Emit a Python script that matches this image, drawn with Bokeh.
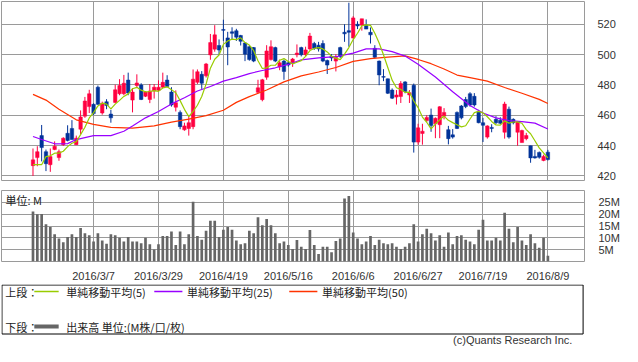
from bokeh.plotting import figure
from bokeh.layouts import column
from bokeh.models import Range1d, FixedTicker, ColumnDataSource, Label
from bokeh.embed import file_html
from bokeh.resources import INLINE
from bokeh.core.properties import value

# ---------------- data ----------------
tick_idx = [14, 29, 44, 59, 74, 89, 104, 119]
tick_labels = ["2016/3/7", "2016/3/29", "2016/4/19", "2016/5/16",
               "2016/6/6", "2016/6/27", "2016/7/19", "2016/8/9"]

opens = [426.8, 432.1, 446.6, 436.0, 427.4, 437.4, 432.1, 440.6, 448.1, 451.3,
         440.6, 450.8, 459.4, 465.7, 467.2, 478.5, 461.5, 468.9, 460.8, 468.5,
         474.2, 474.2, 483.2, 470.0, 479.6, 480.0, 472.5, 470.4, 476.0, 476.5,
         478.5, 483.2, 475.3, 465.3, 461.9, 450.4, 451.3, 452.5, 481.7, 487.0,
         486.0, 499.8, 503.6, 506.0, 516.5, 511.0, 515.0, 515.7, 512.6, 507.7,
         505.2, 504.6, 475.1, 470.3, 485.1, 496.7, 504.6, 491.9, 495.7, 494.6,
         494.6, 499.9, 504.6, 499.9, 503.7, 507.3, 506.2, 507.3, 496.1, 498.8,
         495.7, 504.6, 514.7, 515.8, 510.9, 520.0, 519.4, 519.4, 514.7, 504.1,
         495.7, 485.5, 484.0, 476.6, 472.0, 472.4, 482.0, 473.4, 479.8, 442.3,
         448.0, 456.5, 460.1, 454.4, 453.8, 459.4, 450.5, 447.1, 461.9, 466.1,
         470.4, 474.2, 472.5, 462.5, 455.1, 445.6, 452.0, 457.3, 456.8, 448.8,
         464.0, 457.3, 448.8, 442.0, 444.6, 439.9, 432.9, 435.5, 430.2, 435.7]
highs = [438.1, 439.6, 453.6, 437.4, 438.1, 442.8, 437.4, 445.5, 453.4, 456.8,
         446.6, 463.2, 472.1, 476.8, 467.9, 479.6, 469.0, 470.6, 463.6, 480.2,
         483.8, 486.6, 488.1, 477.9, 487.0, 481.1, 476.0, 480.6, 480.6, 483.0,
         488.1, 486.4, 478.5, 476.4, 463.2, 455.1, 459.4, 490.2, 490.2, 489.1,
         494.5, 513.6, 519.4, 510.0, 523.0, 515.0, 518.0, 517.0, 513.0, 508.0,
         506.2, 505.0, 483.4, 484.0, 506.2, 509.4, 505.2, 496.7, 496.7, 495.5,
         497.8, 506.7, 505.2, 505.2, 514.3, 508.4, 508.4, 509.4, 496.7, 500.3,
         500.3, 505.2, 520.0, 534.2, 525.3, 522.0, 523.6, 523.2, 517.9, 506.2,
         496.1, 490.4, 484.2, 477.7, 476.6, 482.5, 482.5, 476.6, 480.9, 454.4,
         454.4, 460.1, 464.4, 458.6, 466.0, 464.7, 453.0, 450.9, 462.5, 466.8,
         472.1, 475.2, 474.6, 463.6, 458.3, 453.4, 454.1, 459.4, 458.7, 468.9,
         465.7, 458.0, 456.2, 450.5, 448.4, 440.0, 437.2, 436.1, 434.0, 437.2]
lows = [420.0, 426.4, 429.6, 423.2, 422.7, 437.0, 430.0, 439.8, 442.8, 444.0,
        440.6, 447.6, 458.3, 461.5, 460.2, 466.8, 460.4, 464.0, 455.1, 467.9,
        473.2, 473.2, 473.2, 461.9, 478.0, 470.0, 472.0, 468.0, 471.0, 476.0,
        478.0, 478.5, 465.7, 462.5, 450.8, 449.8, 446.6, 450.8, 480.6, 477.4,
        484.9, 496.6, 501.9, 500.0, 509.0, 493.0, 510.0, 509.0, 506.0, 495.7,
        496.0, 495.0, 474.5, 469.2, 483.4, 496.1, 495.0, 489.7, 483.4, 492.0,
        491.9, 498.2, 498.8, 498.8, 503.1, 503.1, 502.0, 495.0, 487.2, 495.7,
        488.9, 497.8, 508.4, 505.2, 510.5, 516.8, 515.8, 516.8, 507.3, 497.4,
        479.8, 482.5, 474.0, 470.7, 467.1, 468.1, 474.5, 468.1, 435.4, 440.6,
        440.6, 455.5, 449.1, 444.9, 444.9, 457.3, 440.8, 444.6, 450.9, 457.3,
        464.7, 465.7, 465.7, 454.7, 442.4, 444.6, 448.8, 454.1, 454.1, 444.6,
        444.6, 454.0, 439.9, 442.0, 443.5, 428.7, 431.4, 431.4, 429.7, 430.2]
closes = [430.6, 436.0, 438.7, 428.1, 432.8, 439.6, 436.0, 444.9, 443.4, 444.0,
          444.9, 458.9, 469.4, 474.2, 461.1, 467.2, 467.9, 466.4, 458.3, 476.8,
          479.6, 481.1, 474.7, 475.3, 481.3, 470.4, 475.3, 476.0, 478.5, 478.5,
          481.7, 479.0, 466.8, 468.3, 452.5, 453.0, 455.1, 483.8, 488.7, 481.1,
          493.8, 507.9, 513.0, 503.0, 516.0, 505.0, 514.0, 511.5, 508.8, 500.3,
          496.7, 495.7, 478.1, 483.4, 502.4, 505.2, 495.7, 494.6, 488.9, 493.1,
          497.1, 501.0, 499.9, 503.1, 512.2, 504.1, 503.7, 495.7, 493.1, 497.8,
          498.2, 498.8, 513.7, 514.7, 524.2, 518.9, 523.6, 516.8, 513.0, 498.2,
          486.6, 485.1, 474.5, 471.3, 473.4, 480.9, 475.6, 474.9, 442.3, 451.7,
          449.5, 458.6, 453.3, 458.0, 465.6, 461.9, 444.6, 445.6, 451.3, 458.3,
          465.7, 466.8, 466.8, 455.1, 453.4, 453.0, 451.3, 455.1, 454.7, 467.4,
          445.6, 455.1, 455.6, 449.9, 446.7, 431.9, 431.9, 432.3, 432.9, 430.8]
volume_m = [21.1, 20.0, 20.1, 15.7, 14.6, 11.5, 9.7, 8.1, 10.4, 11.5,
            10.4, 14.2, 11.9, 11.1, 8.5, 11.9, 8.9, 7.5, 11.5, 11.1,
            10.0, 8.5, 10.4, 8.5, 8.5, 7.7, 10.0, 7.3, 5.1, 7.3,
            10.8, 10.8, 12.7, 7.0, 12.7, 7.3, 11.5, 25.2, 10.8, 9.2,
            13.0, 17.2, 17.2, 10.4, 13.4, 14.6, 13.4, 8.9, 7.3, 7.7,
            13.0, 11.9, 18.7, 15.3, 18.0, 15.3, 11.9, 7.7, 8.5, 7.0,
            5.3, 9.1, 6.2, 5.3, 13.3, 7.0, 3.2, 6.2, 6.2, 3.9,
            8.7, 9.7, 26.6, 27.7, 12.3, 9.7, 7.3, 8.5, 10.8, 7.0,
            9.2, 7.7, 7.3, 7.7, 6.2, 5.3, 6.2, 7.7, 15.7, 8.5,
            11.5, 13.8, 11.9, 8.9, 11.1, 6.2, 12.3, 7.3, 10.8, 11.1,
            9.2, 8.5, 7.3, 13.4, 17.6, 8.9, 8.9, 10.0, 8.9, 20.6,
            13.8, 8.1, 14.6, 8.9, 7.0, 11.5, 7.7, 5.8, 10.0, 2.4]

ma5_head = [427.4, 427.4, 427.4, 432.8]
ma25_idx = [0, 2, 5, 8, 10, 14, 18, 21, 23, 26, 29, 32, 35, 38, 41, 44, 47, 50, 53,
            56, 59, 62, 66, 70, 74, 77, 80, 83, 86, 89, 93, 97, 101, 104, 107, 110,
            113, 116, 119]
ma25_val = [446.0, 444.0, 441.2, 441.3, 444.0, 446.6, 446.6, 449.5, 453.0, 458.3,
            462.5, 467.5, 471.5, 476.0, 479.0, 482.5, 484.8, 487.5, 489.5, 491.3,
            493.5, 496.5, 497.8, 498.6, 501.0, 503.8, 503.8, 502.0, 499.0, 493.6,
            485.2, 475.5, 466.5, 461.5, 458.3, 456.5, 455.8, 454.8, 451.0]
ma50_idx = [0, 3, 6, 10, 14, 18, 23, 28, 32, 36, 40, 44, 47, 50, 54, 58, 62, 66, 70,
            74, 78, 82, 86, 89, 92, 95, 98, 101, 105, 109, 113, 117, 119]
ma50_val = [473.8, 470.0, 464.0, 457.0, 454.0, 452.0, 451.5, 453.0, 455.5, 457.5,
            459.8, 463.3, 468.5, 472.3, 476.7, 482.0, 486.0, 488.5, 491.5, 495.5,
            497.3, 498.3, 499.2, 496.8, 494.0, 490.5, 486.5, 484.8, 482.5, 478.3,
            474.5, 470.5, 467.8]

price_ticks = [420, 440, 460, 480, 500, 520]
vol_ticks = [5, 10, 15, 20, 25]

# ---------------- styles ----------------
UP = "#ff0040"
DOWN = "#003399"
C_MA5 = "#99cc00"
C_MA25 = "#9900ff"
C_MA50 = "#ff3300"
GRID = "#9a9a9a"
VOLC = "#666666"
NUM_FONT = "Liberation Sans"
JP_FONT = "Noto Sans CJK JP"

n = len(closes)
idx = list(range(n))
up = [c >= o for o, c in zip(opens, closes)]
colors = [UP if u else DOWN for u in up]
ma5 = ma5_head + [sum(closes[i - 4:i + 1]) / 5 for i in range(4, n)]

src = ColumnDataSource(dict(
    x=idx,
    top=[max(o, c) for o, c in zip(opens, closes)],
    bottom=[min(o, c) for o, c in zip(opens, closes)],
    high=highs, low=lows, color=colors, vol=volume_m,
))

XR = (-7.28, 127.46)


def style_common(fig):
    fig.outline_line_color = GRID
    fig.outline_line_width = 1
    fig.xgrid.ticker = FixedTicker(ticks=tick_idx)
    fig.xgrid.grid_line_color = GRID
    fig.ygrid.grid_line_color = GRID
    fig.background_fill_color = "white"
    fig.border_fill_color = "white"


# ---------------- price panel ----------------
p = figure(width=622, height=189, x_range=Range1d(*XR), y_range=Range1d(417, 535),
           x_axis_location=None, y_axis_location="right",
           toolbar_location=None, output_backend="svg",
           min_border_left=1, min_border_right=32, min_border_top=1, min_border_bottom=9)
style_common(p)
p.ygrid.ticker = FixedTicker(ticks=price_ticks)
p.yaxis.ticker = FixedTicker(ticks=price_ticks)
p.yaxis.axis_line_color = None
p.yaxis.major_tick_line_color = None
p.yaxis.minor_tick_line_color = None
p.yaxis.major_label_standoff = 7
p.yaxis.major_label_text_font = NUM_FONT
p.yaxis.major_label_text_font_size = "11px"
p.yaxis.major_label_text_color = "#333333"

p.segment(x0="x", y0="high", x1="x", y1="low", color="color", line_width=1, source=src)
p.vbar(x="x", top="top", bottom="bottom", width=0.8, fill_color="color",
       line_color="color", line_width=0.5, source=src)
p.line(ma50_idx, ma50_val, color=C_MA50, line_width=1.2)
p.line(ma25_idx, ma25_val, color=C_MA25, line_width=1.2)
p.line(idx, ma5, color=C_MA5, line_width=1.2)

# ---------------- volume panel ----------------
pv = figure(width=622, height=95, x_range=p.x_range, y_range=Range1d(0, 30),
            x_axis_location="below", y_axis_location="right",
            toolbar_location=None, output_backend="svg",
            min_border_left=1, min_border_right=32, min_border_top=1, min_border_bottom=16)
style_common(pv)
pv.ygrid.ticker = FixedTicker(ticks=vol_ticks)
pv.yaxis.ticker = FixedTicker(ticks=vol_ticks)
pv.yaxis.major_label_overrides = {v: f"{v}M" for v in vol_ticks}
pv.xaxis.ticker = FixedTicker(ticks=tick_idx)
pv.xaxis.major_label_overrides = dict(zip(tick_idx, tick_labels))
for ax in (pv.xaxis, pv.yaxis):
    ax.axis_line_color = None
    ax.major_tick_line_color = None
    ax.minor_tick_line_color = None
    ax.major_label_text_font = NUM_FONT
    ax.major_label_text_font_size = "11px"
    ax.major_label_text_color = "#333333"
pv.yaxis.major_label_standoff = 8
pv.xaxis.major_label_standoff = 2

pv.vbar(x="x", top="vol", bottom=0, width=0.62, fill_color=VOLC, line_color=None, source=src)
pv.add_layout(Label(x=XR[0] + 0.9, y=29.4, text="単位: M", text_font=JP_FONT,
                    text_font_size="11px", text_baseline="top", text_color="#222222"))

# ---------------- legend panel ----------------
pl = figure(width=622, height=62, x_range=Range1d(0, 622), y_range=Range1d(62, 0),
            x_axis_location=None, y_axis_location=None,
            toolbar_location=None, output_backend="svg", min_border=0)
pl.grid.visible = False
pl.outline_line_color = None
pl.quad(left=[0.5], right=[620.5], top=[0.5], bottom=[49.5], fill_color=None,
        line_color="#000000", line_width=1)

row1, row2 = 7, 42
leg_text = dict(text_font=value(JP_FONT), text_font_size="11px",
                text_baseline="middle", text_color="#222222")
pl.text(x=[4, 4], y=[row1, row2], text=["上段：", "下段："], **leg_text)
pl.line(x=[35, 61], y=[row1, row1], line_color=C_MA5, line_width=1.6)
pl.text(x=[69], y=[row1], text=["単純移動平均(5)"], **leg_text)
pl.line(x=[163, 193], y=[row1, row1], line_color=C_MA25, line_width=1.6)
pl.text(x=[198], y=[row1], text=["単純移動平均(25)"], **leg_text)
pl.line(x=[307, 337], y=[row1, row1], line_color=C_MA50, line_width=1.6)
pl.text(x=[342], y=[row1], text=["単純移動平均(50)"], **leg_text)
pl.line(x=[35, 61], y=[row2, row2], line_color=VOLC, line_width=4)
pl.text(x=[69], y=[row2], text=["出来高 単位:(M株/口/枚)"], **leg_text)
pl.text(x=[609], y=[55], text=["(c)Quants Research Inc."], text_font=value(NUM_FONT),
        text_font_size="11px", text_baseline="middle", text_align="right",
        text_color="#333333")

layout = column(p, pv, pl)
open("out.html", "w").write(file_html(layout, INLINE))
